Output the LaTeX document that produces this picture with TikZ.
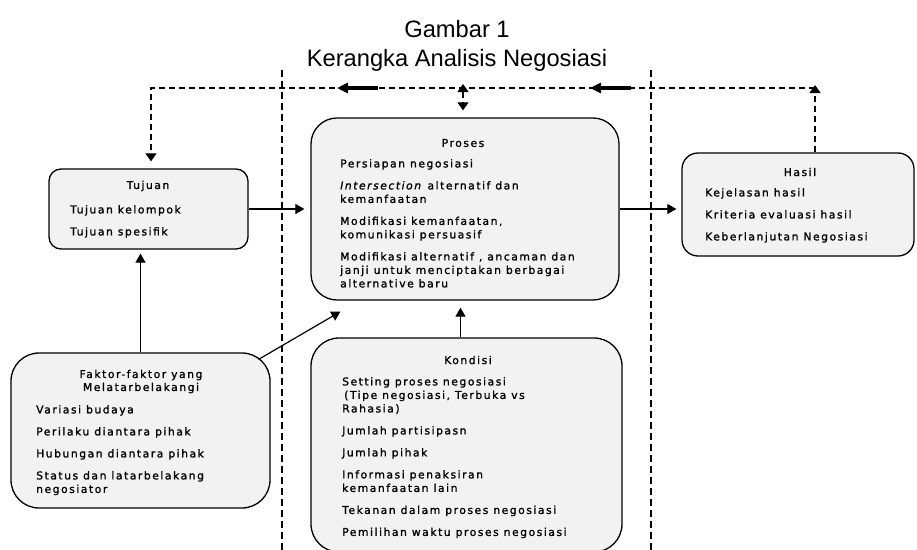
\documentclass[tikz,border=0pt]{standalone}
\usepackage{fontspec}
\setmainfont{Liberation Sans}
\newfontfamily\boxfont[LetterSpace=14,FakeBold=1.2]{DejaVu Sans}
\usetikzlibrary{arrows.meta}
\definecolor{boxgray}{HTML}{F2F2F2}
\tikzstyle{box} = [draw, fill=boxgray, line width=1.3pt, inner sep=0pt]
\tikzstyle{head} = [font=\boxfont\fontsize{10.8}{13}\selectfont, inner sep=0pt]
\tikzstyle{items} = [font=\boxfont\fontsize{10.8}{13.5}\selectfont, align=left,
  inner sep=0pt, anchor=north west]
\tikzstyle{arr} = [line width=1.2pt, -{Triangle[length=9pt,width=10pt]}]
\tikzstyle{fb} = [line width=1.2pt, dash pattern=on 6pt off 4pt,
  >={Triangle[length=8pt,width=11pt]}]
\tikzstyle{flowmark} = [line width=4pt, -{Triangle[length=11pt,width=10pt]}]
\tikzstyle{sep} = [line width=1.2pt, dash pattern=on 7pt off 4pt]

\begin{document}
\begin{tikzpicture}[x=1pt,y=-1pt]
    \useasboundingbox (0,0) rectangle (917,549);
    \node[anchor=base,font=\fontsize{23.7}{28}\selectfont] (judul) at (457,37) {Gambar 1};
    \node[anchor=base,font=\fontsize{23.7}{28}\selectfont] (subjudul) at (457,66)
        {Kerangka Analisis Negosiasi};
    % garis pembatas
    \draw[sep] (282,70) -- (282,552);
    \draw[sep] (651,70) -- (651,552);
    % kotak
    \node[box,rounded corners=12pt,minimum width=199pt,minimum height=80pt] (tujuan) at (148.5,209) {};
    \node[box,rounded corners=26pt,minimum width=308pt,minimum height=182pt] (proses) at (465,209) {};
    \node[box,rounded corners=16pt,minimum width=232pt,minimum height=103pt] (hasil) at (798,204.5) {};
    \node[box,rounded corners=28pt,minimum width=259pt,minimum height=155pt] (faktor) at (140.5,430.5) {};
    \node[box,rounded corners=28pt,minimum width=311pt,minimum height=214pt] (kondisi) at (466.5,445) {};
    % isi kotak
    \node[head] (tujuan-h) at (148,186) {Tujuan};
    \node[items] (tujuan-i) at (70,205) {Tujuan kelompok\\[8.5pt]Tujuan spesifik};
    \node[head] (proses-h) at (463,143) {Proses};
    \node[items] (proses-i) at (340,159) {Persiapan negosiasi\\[8.5pt]
        \textit{Intersection} alternatif dan\\kemanfaatan\\[8.5pt]
        Modifikasi kemanfaatan,\\komunikasi persuasif\\[8.5pt]
        Modifikasi alternatif , ancaman dan\\janji untuk menciptakan berbagai\\alternative baru};
    \node[head] (hasil-h) at (800,172) {Hasil};
    \node[items] (hasil-i) at (705,188) {Kejelasan hasil\\[8.5pt]Kriteria evaluasi hasil\\[8.5pt]
        Keberlanjutan Negosiasi};
    \node[head,align=center] (faktor-h) at (141,381.5) {Faktor-faktor yang\\Melatarbelakangi};
    \node[items] (faktor-i) at (36,405) {Variasi budaya\\[8.5pt]Perilaku diantara pihak\\[8.5pt]
        Hubungan diantara pihak\\[8.5pt]Status dan latarbelakang\\negosiator};
    \node[head] (kondisi-h) at (468,360) {Kondisi};
    \node[items] (kondisi-i) at (342,377) {Setting proses negosiasi\\
        \hspace{2pt}(Tipe negosiasi, Terbuka vs\\Rahasia)\\[8.5pt]
        Jumlah partisipasn\\[8.5pt]Jumlah pihak\\[8.5pt]
        Informasi penaksiran\\kemanfaatan lain\\[8.5pt]
        Tekanan dalam proses negosiasi\\[8.5pt]Pemilihan waktu proses negosiasi};
    % panah
    \draw[arr,shorten >=6pt] (tujuan.east) -- (proses.west);
    \draw[arr,shorten >=5pt] (proses.east) -- (proses.east -| hasil.west);
    \draw[arr,shorten >=4pt] (faktor.north) -- (faktor.north |- tujuan.south);
    \draw[arr,shorten >=7pt] ([xshift=-6pt]kondisi.north) -- ([xshift=-6pt]kondisi.north |- proses.south);
    \draw[arr] ([shift={(-12pt,-7pt)}]faktor.north east) -- ([shift={(30pt,-11pt)}]proses.south west);
    % umpan balik
    \coordinate (fb-l) at (151,88);
    \coordinate (fb-r) at (815,88);
    \draw[fb,->,shorten >=-3pt] (fb-r |- hasil.north) -- (fb-r);
    \draw[fb,->,shorten >=7pt] (fb-r) -- (fb-l) -- (fb-l |- tujuan.north);
    \draw[fb,<->,shorten <=-4pt,shorten >=7pt] ([xshift=-2pt]proses.north |- fb-l) -- ([xshift=-2pt]proses.north);
    \draw[flowmark] (378,88) -- (337,88);
    \draw[flowmark] (631,88) -- (590,88);
\end{tikzpicture}
\end{document}
